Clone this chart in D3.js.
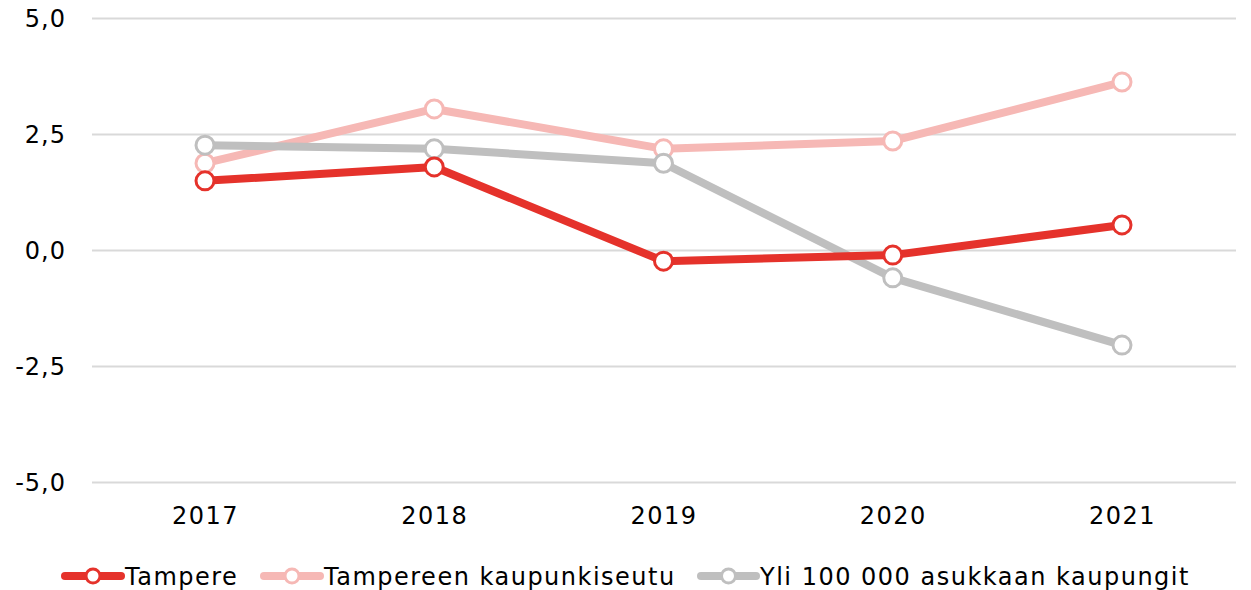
<!DOCTYPE html>
<html><head><meta charset="utf-8">
<script src="https://cdn.jsdelivr.net/npm/d3@7"></script>
<style>
html,body{margin:0;padding:0;background:#fff;}
svg{display:block;}
svg text{font-family:"DejaVu Sans",sans-serif;}
</style></head>
<body><svg id="c" width="1251" height="590"></svg>
<script>
const years = ["2017","2018","2019","2020","2021"];
const tampere = [1.49, 1.79, -0.24, -0.11, 0.54];
const seutu = [1.87, 3.04, 2.18, 2.35, 3.62];
const yli = [2.26, 2.18, 1.87, -0.60, -2.05];
const seriesNames = ["Tampere","Tampereen kaupunkiseutu","Yli 100 000 asukkaan kaupungit"];
const yTicks = [5, 2.5, 0, -2.5, -5];
const colors = ["#e5322b","#f6b8b5","#bfbfbf"];

const FF = "DejaVu Sans, sans-serif";
const svg = d3.select("#c");
const x = d3.scalePoint().domain(years).range([205,1122]);
const y = d3.scaleLinear().domain([-5,5]).range([482,18]);
const fmt = v => d3.format(".1f")(v).replace(".",",").replace("−","-");

const gy = svg.append("g").attr("transform","translate(92,0)")
  .call(d3.axisLeft(y).tickValues(yTicks).tickSize(-1144).tickFormat(fmt).tickPadding(26));
gy.attr("font-family",FF);
gy.select(".domain").remove();
gy.selectAll(".tick line").attr("stroke","#d9d9d9").attr("stroke-width",2);
gy.selectAll(".tick text").attr("font-size",24).attr("fill","#000").attr("dy","0.36em")
  .attr("letter-spacing",1);

const gx = svg.append("g").attr("transform","translate(0,482)")
  .call(d3.axisBottom(x).tickSize(0).tickPadding(25));
gx.attr("font-family",FF);
gx.select(".domain").remove();
gx.selectAll(".tick text").attr("font-size",24).attr("fill","#000").attr("letter-spacing",1.5);

const data = [tampere, seutu, yli];
const line = d3.line().x((d,i)=>x(years[i])).y(d=>y(d));
// draw order: seutu, yli, tampere
[1,2,0].forEach(k=>{
  const g = svg.append("g");
  g.append("path").datum(data[k]).attr("d",line).attr("fill","none")
    .attr("stroke",colors[k]).attr("stroke-width",8).attr("stroke-linejoin","round");
  g.selectAll("circle").data(data[k]).join("circle")
    .attr("cx",(d,i)=>x(years[i])).attr("cy",d=>y(d)).attr("r",9)
    .attr("fill","#fff").attr("stroke",colors[k]).attr("stroke-width",3);
});

// legend
const leg = svg.append("g").attr("transform","translate(0,576)").attr("font-family",FF);
const items = [{x0:65,x1:121},{x0:264,x1:320},{x0:701,x1:756}];
items.forEach((it,k)=>{
  leg.append("line").attr("x1",it.x0).attr("x2",it.x1).attr("y1",0).attr("y2",0)
    .attr("stroke",colors[k]).attr("stroke-width",8).attr("stroke-linecap","round");
  leg.append("circle").attr("cx",(it.x0+it.x1)/2).attr("cy",0).attr("r",7)
    .attr("fill","#fff").attr("stroke",colors[k]).attr("stroke-width",3);
  leg.append("text").attr("x",it.x1+4).attr("y",0).attr("dy","0.36em")
    .attr("font-size",24).attr("letter-spacing",1.5).attr("fill","#000").text(seriesNames[k]);
});
</script></body></html>
